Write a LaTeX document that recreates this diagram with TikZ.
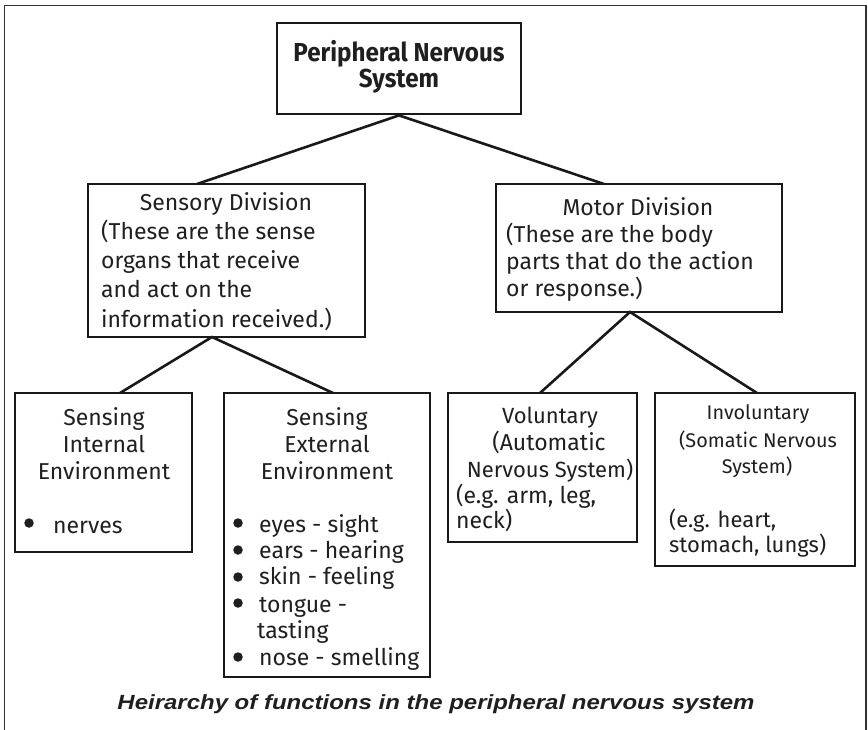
\documentclass[tikz,border=0pt]{standalone}
\usepackage{fontspec}
\setmainfont{Fira Sans}
\newfontfamily\capfont{Liberation Sans}
\begin{document}
\begin{tikzpicture}[x=1pt,y=-1pt,
  box/.style={draw=black!90,line width=2.8pt,rectangle,inner sep=0pt},
  link/.style={draw=black!90,line width=2.6pt},
  txt/.style={inner sep=0pt,anchor=base,font=\fontsize{23}{27}\selectfont,text=black!88},
  ltxt/.style={txt,anchor=base west},
  small/.style={font=\fontsize{22}{26}\selectfont},
  smaller/.style={font=\fontsize{19.8}{24}\selectfont},
  bul/.style={circle,fill=black!88,inner sep=0pt,minimum size=9.5pt},
  frame/.style={draw=black!80,line width=1.6pt}]
\useasboundingbox (0,0) rectangle (868,730);
\draw[frame] (4.5,730) -- (4.5,5.5) -- (866,5.5) -- (866,730);

% boxes
\node[box,minimum width=244pt,minimum height=91pt] (pns) at (399,68.5) {};
\node[box,minimum width=277pt,minimum height=153pt] (sens) at (226.5,260.5) {};
\node[box,minimum width=286pt,minimum height=128pt] (mot) at (639,248) {};
\node[box,minimum width=177pt,minimum height=159pt] (int) at (103.5,472.5) {};
\node[box,minimum width=206pt,minimum height=284pt] (ext) at (327,535) {};
\node[box,minimum width=189pt,minimum height=149pt] (vol) at (542.5,467.5) {};
\node[box,minimum width=200pt,minimum height=173pt] (inv) at (755,479.5) {};

% connector end points
\coordinate (pnsB) at (pns.south);
\coordinate (sensT) at (197,184);
\coordinate (motT) at (604,184);
\coordinate (sensB) at (212,337);
\coordinate (intT) at (120,393);
\coordinate (extT) at (333,393);
\coordinate (motB) at (630,312);
\coordinate (volT) at (540,393);
\coordinate (invT) at (757,393);
\draw[link] (sensT) -- (pnsB) -- (motT);
\draw[link] (intT) -- (sensB) -- (extT);
\draw[link] (volT) -- (motB) -- (invT);

% title
\node[txt,font=\fontsize{26}{27}\bfseries] (t1) at (399,62) {\scalebox{0.93}[1]{Peripheral Nervous}};
\node[txt,font=\fontsize{26}{27}\bfseries] (t2) at (399,88) {\scalebox{0.93}[1]{System}};

% sensory
\node[txt] (s1) at (226,211) {Sensory Division};
\node[ltxt] (s2) at (101,240) {(These are the sense};
\node[ltxt] (s3) at (101,269) {organs that receive};
\node[ltxt] (s4) at (101,298) {and act on the};
\node[ltxt] (s5) at (101,327) {information received.)};

% motor
\node[txt] (m1) at (638,216) {Motor Division};
\node[ltxt] (m2) at (506,243) {(These are the body};
\node[ltxt] (m3) at (506,270) {parts that do the action};
\node[ltxt] (m4) at (506,297) {or response.)};

% internal
\node[txt] (i1) at (104,425) {Sensing};
\node[txt] (i2) at (104,452) {Internal};
\node[txt] (i3) at (104,479) {Environment};
\node[bul] (ib) at (29,523) {};
\node[ltxt] (i4) at (53,533) {nerves};

% external
\node[txt] (e1) at (327,425) {Sensing};
\node[txt] (e2) at (327,452) {External};
\node[txt] (e3) at (327,479) {Environment};
\node[bul] (eb1) at (238,523) {};
\node[ltxt] (e4) at (259,532) {eyes - sight};
\node[bul] (eb2) at (238,550) {};
\node[ltxt] (e5) at (259,558) {ears - hearing};
\node[bul] (eb3) at (238,577) {};
\node[ltxt] (e6) at (259,584) {skin - feeling};
\node[bul] (eb4) at (238,603) {};
\node[ltxt] (e7) at (259,612) {tongue -};
\node[ltxt] (e8) at (257,638) {tasting};
\node[bul] (eb5) at (238,657) {};
\node[ltxt] (e9) at (259,665) {nose - smelling};

% voluntary
\node[txt,small] (v1) at (550,423) {Voluntary};
\node[txt] (v2) at (549,450) {(Automatic};
\node[txt,small] (v3) at (550,477) {Nervous System)};
\node[ltxt] (v4) at (456,503) {(e.g. arm, leg,};
\node[ltxt] (v5) at (456,528) {neck)};

% involuntary
\node[txt,smaller] (n1) at (758,419) {Involuntary};
\node[txt,smaller] (n2) at (758,447) {(Somatic Nervous};
\node[txt,smaller] (n3) at (757,473) {System)};
\node[ltxt,small] (n4) at (669,527) {(e.g. heart,};
\node[ltxt,small] (n5) at (669,552) {stomach, lungs)};

% caption
\node[txt,font=\capfont\fontsize{20.5}{22}\bfseries\itshape] (cap) at (436,709) {\scalebox{1.17}[1]{Heirarchy of functions in the peripheral nervous system}};
\end{tikzpicture}
\end{document}
